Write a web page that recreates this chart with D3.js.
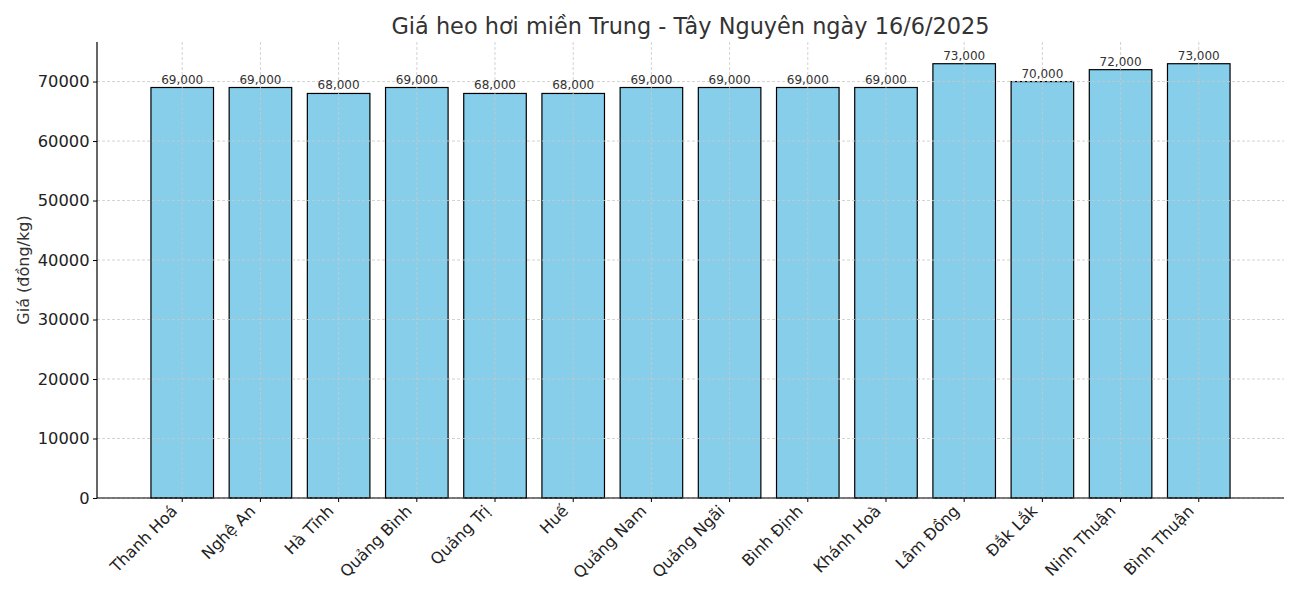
<!DOCTYPE html>
<html><head><meta charset="utf-8">
<script src="https://cdn.jsdelivr.net/npm/d3@7"></script>
<style>body{margin:0;background:#fff;} text{font-family:"DejaVu Sans",sans-serif;}</style>
</head><body>
<svg id="c" width="1300" height="600"></svg>
<script>
const categories = ["Thanh Hoá","Nghệ An","Hà Tĩnh","Quảng Bình","Quảng Trị","Huế","Quảng Nam","Quảng Ngãi","Bình Định","Khánh Hoà","Lâm Đồng","Đắk Lắk","Ninh Thuận","Bình Thuận"];
const prices = [69000,69000,68000,69000,68000,68000,69000,69000,69000,69000,73000,70000,72000,73000];
const yTicks = [0,10000,20000,30000,40000,50000,60000,70000];
const title = "Giá heo hơi miền Trung - Tây Nguyên ngày 16/6/2025";
const yLabel = "Giá (đồng/kg)";

const svg = d3.select("#c");
const L = 97, R = 1284, T = 42, B = 498;
const n = categories.length;
const x = d3.scaleLinear().domain([-1.09, n - 1 + 1.09]).range([L, R]);
const y = d3.scaleLinear().domain([0, d3.max(prices) * 1.05]).range([B, T]);
const bw = x(0.8) - x(0);

// bars
svg.append("g").selectAll("rect").data(prices).join("rect")
  .attr("x", (d, i) => x(i) - bw / 2).attr("width", bw)
  .attr("y", d => y(d)).attr("height", d => B - y(d))
  .attr("fill", "#87CEEB").attr("stroke", "#000").attr("stroke-width", 1.2);

// grid on top
const grid = svg.append("g").attr("stroke", "#c8c8c8").attr("stroke-dasharray", "3,2").attr("stroke-width", 0.8);
grid.selectAll(".gy").data(yTicks).join("line")
  .attr("x1", L).attr("x2", R).attr("y1", d => y(d)).attr("y2", d => y(d));
grid.selectAll(".gx").data(categories).join("line")
  .attr("x1", (d, i) => x(i)).attr("x2", (d, i) => x(i)).attr("y1", T).attr("y2", B);

// value labels
svg.append("g").selectAll("text").data(prices).join("text")
  .attr("x", (d, i) => x(i)).attr("y", d => y(d) - 4)
  .attr("text-anchor", "middle").attr("font-size", 12).attr("fill", "#333")
  .text(d => d3.format(",")(d));

// axes
const yAxis = d3.axisLeft(y).tickValues(yTicks).tickFormat(d3.format("d")).tickSize(4).tickPadding(3.5);
const gy = svg.append("g").attr("transform", `translate(${L},0)`).call(yAxis);
gy.select(".domain").attr("d", `M0,${T}V${B}`).attr("stroke", "#000").attr("stroke-width", 1.2);
gy.selectAll("text").attr("font-size", 16.3).attr("fill", "#222").attr("font-family", "DejaVu Sans");

const gx = svg.append("g").attr("transform", `translate(0,${B})`);
gx.append("line").attr("x1", L).attr("x2", R).attr("stroke", "#000").attr("stroke-width", 1.2);
const xTicks = gx.selectAll("g").data(categories).join("g").attr("transform", (d, i) => `translate(${x(i)},0)`);
xTicks.append("line").attr("y2", 4).attr("stroke", "#000");
xTicks.append("text").attr("text-anchor", "end").attr("font-size", 16).attr("fill", "#222")
  .attr("transform", "translate(-12,6) rotate(-45)").attr("dy", "0.71em")
  .text(d => d);

// title & y label
svg.append("text").attr("x", (L + R) / 2).attr("y", 34).attr("text-anchor", "middle")
  .attr("font-size", 22.4).attr("fill", "#333").text(title);
svg.append("text").attr("transform", `translate(29,${(T + B) / 2}) rotate(-90)`)
  .attr("text-anchor", "middle").attr("font-size", 16).attr("fill", "#333").text(yLabel);
</script>
</body></html>
